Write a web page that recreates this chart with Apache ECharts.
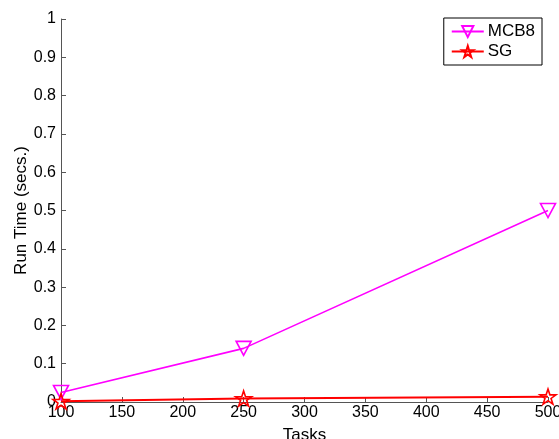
<!DOCTYPE html>
<html><head><meta charset="utf-8">
<script src="https://cdn.jsdelivr.net/npm/echarts@6/dist/echarts.min.js"></script>
<style>html,body{margin:0;padding:0;background:#fff}#c{width:559px;height:439px}</style>
</head><body><div id="c"></div>
<script>
var tasks = [100, 250, 500];
var mcb8 = [0.025, 0.14, 0.50];
var sg = [0.002, 0.009, 0.014];
var xTicks = [100,150,200,250,300,350,400,450,500];
var yTicks = [0,0.1,0.2,0.3,0.4,0.5,0.6,0.7,0.8,0.9,1];

var star = 'path://M100,0 L122.45,69.1 L195.1,69.1 L136.3,111.8 L158.8,180.9 L100,138.2 L41.2,180.9 L63.7,111.8 L4.9,69.1 L77.55,69.1 Z';
var font = 'Liberation Sans, Arial, Helvetica, sans-serif';
var chart = echarts.init(document.getElementById('c'), null, {renderer:'canvas'});
function pairs(xs, ys){ return xs.map(function(x,i){return [x, ys[i]];}); }
chart.setOption({
  animation:false,
  backgroundColor:'#fff',
  grid:{left:61, right:11, top:19, bottom:37, containLabel:false, outerBoundsMode:'none'},
  legend:{
    right:17, top:18, orient:'vertical', backgroundColor:'#fff',
    borderColor:'#000', borderWidth:1, padding:[5,7,5,7], itemGap:3,
    itemWidth:32, itemHeight:14,
    textStyle:{fontFamily:font, fontSize:17, color:'#000', padding:[0,0,0,-1]},
    data:['MCB8','SG']
  },
  xAxis:{
    type:'value', min:100, max:500, interval:50,
    name:'Tasks', nameLocation:'middle', nameGap:25,
    nameTextStyle:{fontFamily:font, fontSize:17, color:'#000'},
    axisLine:{lineStyle:{color:'#555', width:1}},
    axisTick:{inside:true, length:5, lineStyle:{color:'#555'}},
    axisLabel:{fontFamily:font, fontSize:16, color:'#000', margin:3, showMaxLabel:true, hideOverlap:false},
    splitLine:{show:false}
  },
  yAxis:{
    type:'value', min:0, max:1, interval:0.1,
    name:'Run Time (secs.)', nameLocation:'middle', nameGap:31, nameRotate:90, nameMoveOverlap:false,
    nameTextStyle:{fontFamily:font, fontSize:17, color:'#000'},
    axisLine:{show:true, lineStyle:{color:'#555', width:1}},
    axisTick:{show:true, inside:true, length:5, lineStyle:{color:'#555'}},
    axisLabel:{fontFamily:font, fontSize:16, color:'#000', margin:5,
      formatter:function(v){return String(Math.round(v*10)/10);}},
    splitLine:{show:false}
  },
  series:[
    {name:'MCB8', type:'line', data:pairs(tasks, mcb8), color:'#ff00ff',
     symbol:'triangle', symbolRotate:180, symbolSize:[15,14], showAllSymbol:true,
     lineStyle:{color:'#ff00ff', width:1.6},
     itemStyle:{color:'rgba(255,255,255,0)', borderColor:'#ff00ff', borderWidth:1.6}},
    {name:'SG', type:'line', data:pairs(tasks, sg), color:'#ff0000',
     symbol:star, symbolSize:16, symbolKeepAspect:true, showAllSymbol:true,
     lineStyle:{color:'#ff0000', width:2},
     itemStyle:{color:'rgba(255,255,255,0)', borderColor:'#ff0000', borderWidth:1.6}}
  ]
});
</script></body></html>
